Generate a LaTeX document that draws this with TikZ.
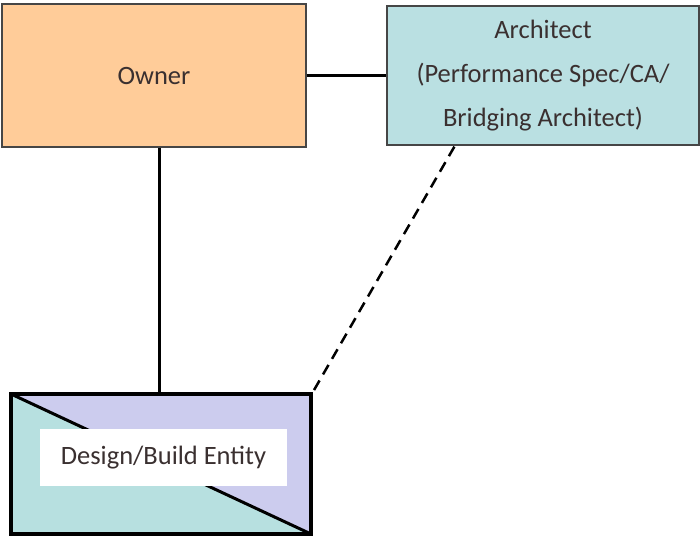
\documentclass[tikz,border=0pt]{standalone}
\usepackage{fontspec}
\setmainfont{Carlito}
\usetikzlibrary{calc}
\definecolor{ownerfill}{RGB}{255,204,153}
\definecolor{archfill}{RGB}{186,224,226}
\definecolor{tealfill}{RGB}{183,224,224}
\definecolor{lavfill}{RGB}{204,204,238}
\definecolor{txt}{RGB}{58,48,48}
\definecolor{boxline}{RGB}{70,70,70}
\tikzset{
  party/.style={draw=boxline, line width=1.2pt, text=txt, font=\fontsize{26.5}{44}\selectfont, align=center, inner sep=0pt},
  link/.style={line width=3pt, black},
  entitybox/.style={draw=black, line width=3.5pt, fill=tealfill, minimum width=300pt, minimum height=140pt, inner sep=0pt},
  labelbox/.style={fill=white, text=txt, font=\fontsize{26.5}{30}\selectfont, minimum width=247pt, minimum height=57pt, inner sep=0pt}
}
\begin{document}
\begin{tikzpicture}[x=1pt, y=-1pt]
  \useasboundingbox (0,0) rectangle (700,539);
  % parties
  \node[party, fill=ownerfill, minimum width=304pt, minimum height=143pt] (owner) at (154,75.5) {Owner};
  \node[party, fill=archfill, minimum width=312pt, minimum height=139pt] (architect) at (543,75.5)
    {Architect\\(Performance Spec/CA/\\Bridging Architect)};
  % design/build entity, split along its diagonal
  \node[entitybox, path picture={
      \fill[lavfill] (path picture bounding box.north west) -- (path picture bounding box.north east)
        -- (path picture bounding box.south east) -- cycle;
      \draw[line width=3pt] (path picture bounding box.north west) -- (path picture bounding box.south east);
    }] (entity) at (161,464) {};
  \node[labelbox] (label) at (163.5,457.5) {Design/Build Entity};
  % connectors
  \coordinate (ownerfoot) at ($(owner.south)+(5,0)$);
  \coordinate (archfoot) at ($(architect.south west)+(68,1)$);
  \draw[link] (owner.east) -- (architect.west);
  \draw[link] (ownerfoot) -- (ownerfoot |- entity.north);
  \draw[link, line width=2.5pt, dash pattern=on 11pt off 7pt] (archfoot) -- (entity.north east);
\end{tikzpicture}
\end{document}
